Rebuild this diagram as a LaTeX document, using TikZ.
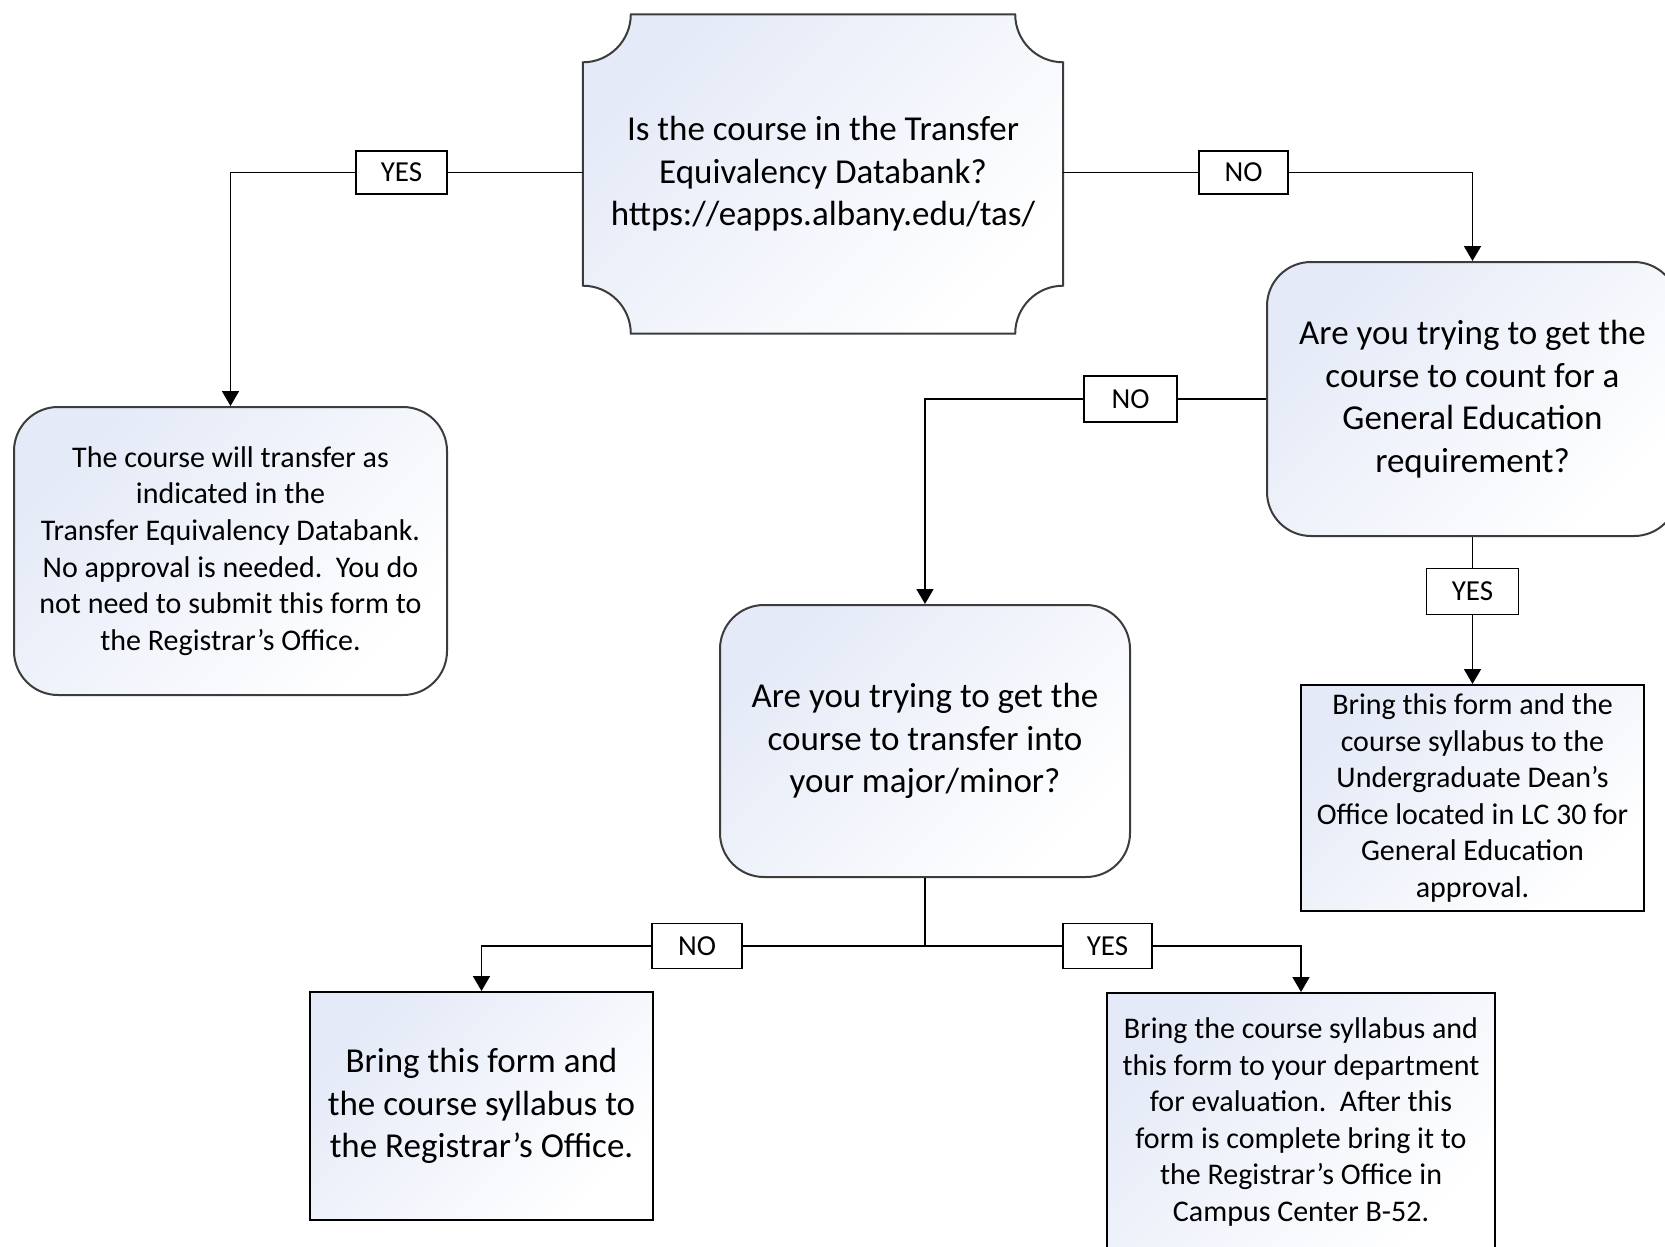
\documentclass[tikz,border=0pt]{standalone}
\usepackage{fontspec}
\setmainfont{Carlito}
\usetikzlibrary{arrows.meta,calc,backgrounds}
\definecolor{gradtop}{RGB}{228,234,247}
\definecolor{edgegray}{RGB}{60,60,60}
\tikzset{
  bigtxt/.style={font=\fontsize{35}{42.5}\selectfont},
  smalltxt/.style={font=\fontsize{30}{36.6}\selectfont},
  shadebox/.style={draw=edgegray, line width=2pt, top color=gradtop, bottom color=white, shading angle=45, align=center, inner sep=0pt},
  roundbox/.style={shadebox, rounded corners=44pt},
  rectbox/.style={shadebox, draw=black},
  lab/.style={draw=black, line width=1.8pt, fill=white, font=\fontsize{29}{32}\selectfont, inner sep=0pt},
  conn/.style={line width=1.8pt, black},
  arr/.style={conn, -{Triangle[width=17pt,length=15pt]}}
}
\begin{document}
\begin{tikzpicture}[x=1pt,y=-1pt]
\useasboundingbox (0,0) rectangle (1665,1247);
\clip (0,0) rectangle (1665,1247);

% top decision (plaque shape)
\node[bigtxt, align=center, minimum width=480pt, minimum height=319pt, inner sep=0pt] (db) at (823,174)
  {Is the course in the Transfer\\Equivalency Databank?\\https://eapps.albany.edu/tas/};
\begin{scope}[on background layer]
\fill[white] (0,0) rectangle (1665,1247);
\path[draw=edgegray, line width=2pt, top color=gradtop, bottom color=white, shading angle=45]
 ($(db.north west)+(48,0)$) -- ($(db.north east)+(-48,0)$)
 .. controls ($(db.north east)+(-48,26.5)$) and ($(db.north east)+(-26.5,48)$) .. ($(db.north east)+(0,48)$)
 -- ($(db.south east)+(0,-48)$)
 .. controls ($(db.south east)+(-26.5,-48)$) and ($(db.south east)+(-48,-26.5)$) .. ($(db.south east)+(-48,0)$)
 -- ($(db.south west)+(48,0)$)
 .. controls ($(db.south west)+(48,-26.5)$) and ($(db.south west)+(26.5,-48)$) .. ($(db.south west)+(0,-48)$)
 -- ($(db.north west)+(0,48)$)
 .. controls ($(db.north west)+(26.5,48)$) and ($(db.north west)+(48,26.5)$) .. ($(db.north west)+(48,0)$) -- cycle;
\end{scope}

% boxes
\node[roundbox, smalltxt, minimum width=433pt, minimum height=288pt] (trans) at (230.5,551)
  {The course will transfer as\\indicated in the\\Transfer Equivalency Databank.\\No approval is needed.\ \ You do\\not need to submit this form to\\the Registrar’s Office.};
\node[roundbox, bigtxt, minimum width=411pt, minimum height=274pt] (gen) at (1472.5,399)
  {Are you trying to get the\\course to count for a\\General Education\\requirement?};
\node[roundbox, bigtxt, minimum width=410pt, minimum height=272pt] (mid) at (925,741)
  {Are you trying to get the\\course to transfer into\\your major/minor?};
\node[rectbox, smalltxt, minimum width=343pt, minimum height=226pt] (genact) at (1472.5,798)
  {Bring this form and the\\course syllabus to the\\Undergraduate Dean’s\\Office located in LC 30 for\\General Education\\approval.};
\node[rectbox, bigtxt, minimum width=343pt, minimum height=228pt] (bl) at (481.5,1106)
  {Bring this form and\\the course syllabus to\\the Registrar’s Office.};
\node[rectbox, smalltxt, minimum width=388pt, minimum height=258pt] (br) at (1301,1122)
  {Bring the course syllabus and\\this form to your department\\for evaluation.\ \ After this\\form is complete bring it to\\the Registrar’s Office in\\Campus Center B-52.};

% labels
\node[lab, minimum width=91pt, minimum height=43pt] (y1) at (401.5,172.5) {YES};
\node[lab, minimum width=89pt, minimum height=43pt] (n1) at (1243.5,172.5) {NO};
\node[lab, minimum width=93pt, minimum height=46pt] (n2) at (1130.5,399) {NO};
\node[lab, minimum width=92pt, minimum height=46pt] (y2) at (1472.5,591.5) {YES};
\node[lab, minimum width=90pt, minimum height=45pt] (n3) at (697,946) {NO};
\node[lab, minimum width=89pt, minimum height=45pt] (y3) at (1107.5,946) {YES};
\coordinate (jn) at (925,946);

% connectors
\draw[conn] (db.west |- y1) -- (y1.east);
\draw[arr] (y1.west) -| (trans.north);
\draw[conn] (db.east |- n1) -- (n1.west);
\draw[arr] (n1.east) -| (gen.north);
\draw[conn] (gen.west) -- (n2.east);
\draw[arr] (n2.west) -| (mid.north);
\draw[conn] (gen.south) -- (y2.north);
\draw[arr] (y2.south) -- (genact.north);
\draw[conn] (mid.south) -- (jn);
\draw[conn] (jn) -- (n3.east);
\draw[arr] (n3.west) -| (bl.north);
\draw[conn] (jn) -- (y3.west);
\draw[arr] (y3.east) -| (br.north);
\end{tikzpicture}
\end{document}
